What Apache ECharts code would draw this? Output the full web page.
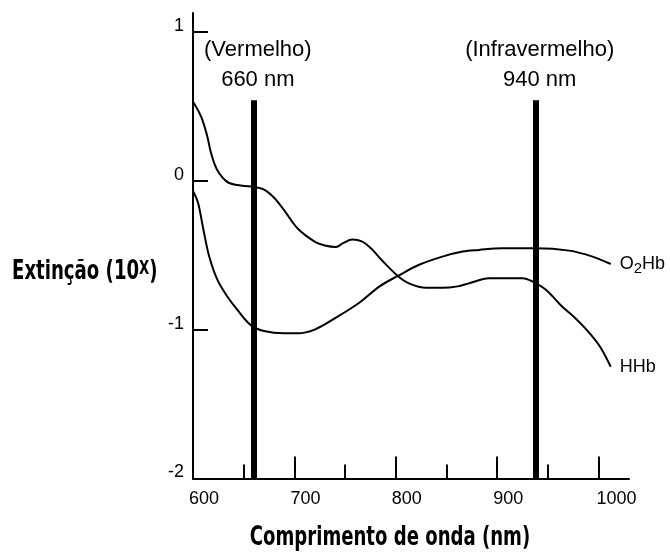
<!DOCTYPE html>
<html><head><meta charset="utf-8">
<script src="https://cdn.jsdelivr.net/npm/echarts@6/dist/echarts.min.js"></script>
<style>html,body{margin:0;padding:0;background:#fff}#c{width:670px;height:552px}</style>
</head><body><div id="c"></div>
<script>
const hhbWave  = [600, 608, 614, 618, 624, 634, 644, 657, 670, 680, 690, 703, 720, 730, 741, 748, 757, 767, 777, 787, 802, 813, 830, 846, 861, 872, 892, 925, 935, 948, 964, 975, 988, 1001, 1012];
const hhbValue = [0.53, 0.43, 0.30, 0.18, 0.07, -0.01, -0.03, -0.04, -0.06, -0.115, -0.20, -0.32, -0.41, -0.435, -0.445, -0.42, -0.395, -0.41, -0.465, -0.54, -0.64, -0.69, -0.72, -0.72, -0.71, -0.69, -0.655, -0.655, -0.678, -0.733, -0.845, -0.91, -1.0, -1.11, -1.25];
const o2hbWave  = [600, 605, 610, 616, 624, 634, 644, 657, 670, 690, 703, 720, 741, 764, 784, 802, 823, 846, 866, 882, 905, 938, 971, 994, 1012];
const o2hbValue = [-0.07, -0.15, -0.32, -0.51, -0.665, -0.78, -0.87, -0.97, -1.01, -1.025, -1.025, -1.0, -0.92, -0.82, -0.71, -0.64, -0.565, -0.51, -0.476, -0.465, -0.454, -0.454, -0.47, -0.51, -0.56];
const minorTicks = [650, 750, 850, 950];
const majorTicks = [700, 800, 900, 1000];
const xTickLabels = [600, 700, 800, 900, 1000];
const yTickValues = [-1, 0, 1];
const yTickLabels = [-2, -1, 0, 1];
const markerWave = [660, 938];
const markerTop = 0.54;
const markerText = ['(Vermelho)\n660 nm', '(Infravermelho)\n940 nm'];
const o2hbName = '{a|O}{s|2}{a|Hb}';
const hhbName = '{a|HHb}';
const xName = 'Comprimento de onda (nm)';
const yName = '{a|Extinção (10}{b|X}{a|)}';

const FONT = "'Liberation Sans', Arial, sans-serif";
const BOLD = "'DejaVu Sans Condensed', 'DejaVu Sans', sans-serif";

const chart = echarts.init(document.getElementById('c'), null, {renderer: 'canvas'});
const gridPos = {left: 193, right: 41, top: 13, bottom: 73.5};
const black = '#000';
const endLabelRich = {
  a: {fontSize: 18, fontFamily: FONT, color: black, lineHeight: 18},
  s: {fontSize: 15, fontFamily: FONT, color: black, lineHeight: 18, padding: [10, 0, 0, 0]}
};
chart.setOption({
  animation: false,
  backgroundColor: '#fff',
  grid: [Object.assign({}, gridPos), Object.assign({}, gridPos)],
  xAxis: [{
    gridIndex: 0, type: 'value', min: 600, max: 1030,
    axisLine: {show: true, onZero: false, lineStyle: {color: black, width: 2}},
    axisTick: {show: true, inside: true, length: 14, customValues: minorTicks, lineStyle: {color: black, width: 2}},
    axisLabel: {show: false}, splitLine: {show: false}
  }, {
    gridIndex: 1, type: 'value', min: 600, max: 1030,
    axisLine: {show: false, onZero: false},
    axisTick: {show: true, inside: true, length: 22, customValues: majorTicks, lineStyle: {color: black, width: 2}},
    axisLabel: {show: true, customValues: xTickLabels,
      formatter: v => v === 1000 ? '{p|' + v + '}' : String(v),
      rich: {p: {fontSize: 18, fontFamily: FONT, color: black, padding: [0, 0, 0, 14]}},
      margin: 12, fontSize: 18, fontFamily: FONT, color: black, padding: [0, 0, 0, 22]},
    splitLine: {show: false}
  }],
  yAxis: [{
    gridIndex: 0, type: 'value', min: -2, max: 1.1255,
    axisLine: {show: true, onZero: false, lineStyle: {color: black, width: 2}},
    axisTick: {show: true, inside: true, length: 15, customValues: yTickValues, lineStyle: {color: black, width: 2}},
    axisLabel: {show: true, customValues: yTickLabels, formatter: v => String(v), margin: 9, fontSize: 18, fontFamily: FONT, color: black, verticalAlign: 'bottom', lineHeight: 12},
    splitLine: {show: false}
  }, {
    gridIndex: 1, type: 'value', min: -2, max: 1.1255, show: false
  }],
  series: [{
    name: 'HHb', type: 'line', xAxisIndex: 0, yAxisIndex: 0,
    data: hhbWave.map((w, i) => [w, hhbValue[i]]),
    smooth: 0.35, symbol: 'none', lineStyle: {color: black, width: 2}, z: 3,
    endLabel: {show: true, formatter: hhbName, distance: 9, rich: endLabelRich},
    markLine: {
      silent: true, symbol: ['none', 'none'], z: 10,
      lineStyle: {color: black, width: 6, type: 'solid'},
      label: {show: true, position: 'end', distance: 5, fontSize: 22, lineHeight: 30, fontFamily: FONT, color: black, padding: [0, 0, 0, 8], formatter: p => markerText[p.dataIndex]},
      data: markerWave.map(w => [{coord: [w, -2]}, {coord: [w, markerTop]}])
    }
  }, {
    name: 'O2Hb', type: 'line', xAxisIndex: 0, yAxisIndex: 0,
    data: o2hbWave.map((w, i) => [w, o2hbValue[i]]),
    smooth: 0.35, symbol: 'none', lineStyle: {color: black, width: 2}, z: 3,
    endLabel: {show: true, formatter: o2hbName, distance: 9, rich: endLabelRich}
  }],
  graphic: [{
    type: 'text', x: 12, y: 272.5, scaleX: 0.775, originX: 0,
    style: {text: yName, align: 'left', verticalAlign: 'middle', fill: black,
      rich: {a: {fontSize: 26, fontWeight: 'bold', fontFamily: BOLD, color: black, lineHeight: 30},
             b: {fontSize: 19, fontWeight: 'bold', fontFamily: BOLD, color: black, lineHeight: 24, padding: [0, 0, 6, 0]}}}
  }, {
    type: 'text', x: 390, y: 538, scaleX: 0.773,
    style: {text: xName, align: 'center', verticalAlign: 'middle', fill: black,
      font: "bold 26px " + BOLD}
  }]
});
</script></body></html>
